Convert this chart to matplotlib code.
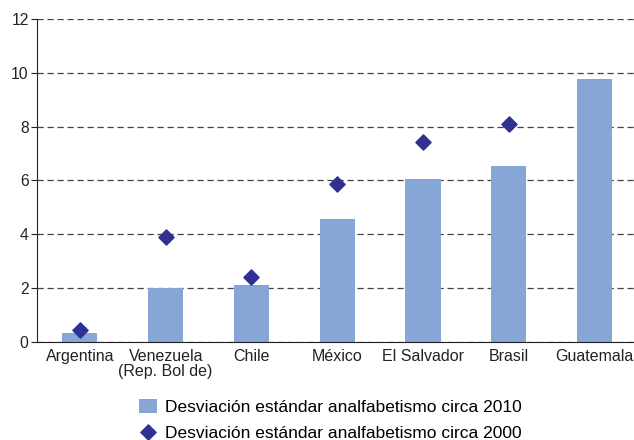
import matplotlib.pyplot as plt
import numpy as np

plt.rcParams['font.family'] = ['Liberation Sans', 'DejaVu Sans']

paises = ['Argentina', 'Venezuela\n(Rep. Bol de)', 'Chile', 'México', 'El Salvador', 'Brasil', 'Guatemala']
desv_2010 = [0.33, 2.02, 2.1, 4.55, 6.06, 6.54, 9.78]
desv_2000 = [0.45, 3.88, 2.4, 5.88, 7.42, 8.1, np.nan]

x = np.arange(len(paises))

fig = plt.figure(figsize=(6.34, 4.4), dpi=100)
ax = fig.add_axes([0.0584, 0.223, 0.947, 0.734])

barras = ax.bar(x, desv_2010, width=0.41, color='#86a6d6', zorder=2,
                label='Desviación estándar analfabetismo circa 2010')
puntos = ax.scatter(x, desv_2000, marker='D', s=60, color='#2e3192', zorder=3,
                    label='Desviación estándar analfabetismo circa 2000')

ax.set_xlim(-0.5, 6.5)
ax.set_ylim(0, 12)
ax.set_yticks(range(0, 13, 2))
ax.set_xticks(x)
ax.set_xticklabels(paises, fontsize=11.5, color='#222222', linespacing=1.05)
ax.tick_params(axis='y', labelsize=11.3, colors='#222222', length=4, direction='out', pad=2)
ax.tick_params(axis='x', length=0, pad=5)
ax.yaxis.grid(True, linestyle=(0, (5, 3)), color='#444444', linewidth=0.9, zorder=1)
ax.spines['top'].set_visible(False)
ax.spines['right'].set_visible(False)
ax.spines['left'].set_color('#222222')
ax.spines['bottom'].set_color('#222222')

fig.legend(handles=[barras, puntos], loc='lower left', bbox_to_anchor=(0.195, -0.037),
           frameon=False, fontsize=12.5, handlelength=1.05, handleheight=0.9,
           handletextpad=0.45, labelspacing=0.55, scatterpoints=1)

fig.savefig('out.png', dpi=100)
